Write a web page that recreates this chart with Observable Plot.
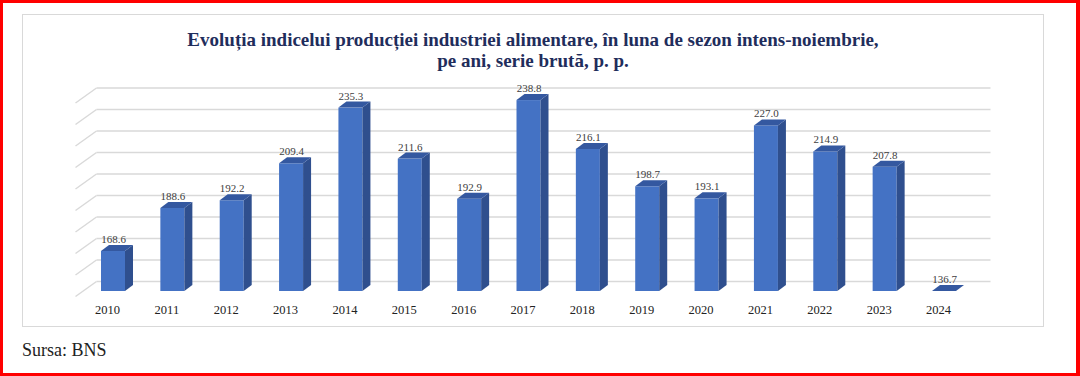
<!DOCTYPE html>
<html><head><meta charset="utf-8">
<script src="https://cdn.jsdelivr.net/npm/d3@7"></script>
<script src="https://cdn.jsdelivr.net/npm/@observablehq/plot@0.6"></script>
<style>
html,body{margin:0;padding:0;background:#fff;width:1080px;height:376px;overflow:hidden;}
#frame{position:absolute;left:0;top:0;width:1080px;height:376px;box-sizing:border-box;border:3px solid #ff0000;border-right-width:4px;pointer-events:none;z-index:5;}
#box{position:absolute;left:22px;top:14px;width:1022px;height:313px;box-sizing:border-box;border:1px solid #d9d9d9;}
#title{position:absolute;left:22px;width:1022px;top:29px;text-align:center;font-family:"Liberation Serif",serif;font-weight:bold;font-size:19px;line-height:21px;color:#1f2d5c;}
#chart{position:absolute;left:0;top:75px;}
#source{position:absolute;left:22px;top:340px;font-family:"Liberation Serif",serif;font-size:18px;color:#222;}
</style></head><body>
<div id="frame"></div>
<div id="box"></div>
<div id="title">Evoluția indicelui producției industriei alimentare, în luna de sezon intens-noiembrie,<br>pe ani, serie brută, p. p.</div>
<div id="chart"></div>
<div id="source">Sursa: BNS</div>
<script>
const years = [2010, 2011, 2012, 2013, 2014, 2015, 2016, 2017, 2018, 2019, 2020, 2021, 2022, 2023, 2024];
const values = [168.6, 188.6, 192.2, 209.4, 235.3, 211.6, 192.9, 238.8, 216.1, 198.7, 193.1, 227.0, 214.9, 207.8, 136.7];
const gridValues = [150, 160, 170, 180, 190, 200, 210, 220, 230, 240];
const axisMin = 150;

// pixel-to-data helpers for the pseudo-3D look
const pxPerYear = (938 - 107) / 14;
const pxPerUnit = 2.15;
const FL = -6 / pxPerYear, FR = 18 / pxPerYear;   // front face extent
const DX = 8 / pxPerYear, DY = 6 / pxPerUnit;      // bar depth
const WALL = 10 / pxPerUnit;                        // back wall offset
const GX1 = -11 / pxPerYear, GX2 = 52 / pxPerYear;  // gridline extent
const SX = -21 / pxPerYear, SY = -15 / pxPerUnit;   // side wall diagonal

const rows = years.map((yr, i) => ({
  year: yr,
  value: values[i],
  top: Math.max(values[i], axisMin),
  xl: yr + FL,
  xr: yr + FR,
  label: values[i].toFixed(1)
}));

const sideRows = rows.flatMap(d => [
  {year: d.year, x: d.xr, y1: axisMin, y2: d.top},
  {year: d.year, x: d.xr + DX, y1: axisMin + DY, y2: d.top + DY}
]);
const topRows = rows.flatMap(d => [
  {year: d.year, x: d.xl, y1: d.top, y2: d.top},
  {year: d.year, x: d.xl + DX, y1: d.top, y2: d.top + DY},
  {year: d.year, x: d.xr, y1: d.top, y2: d.top + DY},
  {year: d.year, x: d.xr + DX, y1: d.top + DY, y2: d.top + DY}
]);

const chart = Plot.plot({
  width: 1080,
  height: 250,
  marginTop: 1,
  marginBottom: 34,
  marginLeft: 0,
  marginRight: 0,
  style: {fontFamily: "Liberation Serif, serif", fontSize: "12.5px", background: "transparent", color: "#222"},
  x: {domain: [years[0], years[years.length - 1]], range: [107, 938], axis: null},
  y: {domain: [150, 250], axis: null},
  marks: [
    Plot.link(gridValues, {
      x1: years[0] + GX1, y1: d => d + WALL,
      x2: years[0] + GX1 + SX, y2: d => d + WALL + SY,
      stroke: "#d9d9d9", strokeWidth: 1.5
    }),
    Plot.link(gridValues, {
      x1: years[0] + GX1, y1: d => d + WALL,
      x2: years[years.length - 1] + GX2, y2: d => d + WALL,
      stroke: "#d9d9d9", strokeWidth: 1.5
    }),
    Plot.rect(rows, {x1: "xl", x2: "xr", y1: axisMin, y2: "top", fill: "#4472c4"}),
    Plot.areaY(sideRows, {x: "x", y1: "y1", y2: "y2", z: "year", fill: "#2f4f8e"}),
    Plot.areaY(topRows, {x: "x", y1: "y1", y2: "y2", z: "year", fill: "#3458a0"}),
    Plot.text(rows, {
      x: d => d.year + (FL + FR) / 2, y: "top", text: "label",
      dy: -12, fontSize: 11, fill: "#404040"
    }),
    Plot.axisX(years, {
      anchor: "bottom", tickSize: 0, tickPadding: 14,
      tickFormat: d => String(d), fontSize: 12.5, fill: "#222"
    })
  ]
});
document.getElementById("chart").appendChild(chart);
</script>
</body></html>
